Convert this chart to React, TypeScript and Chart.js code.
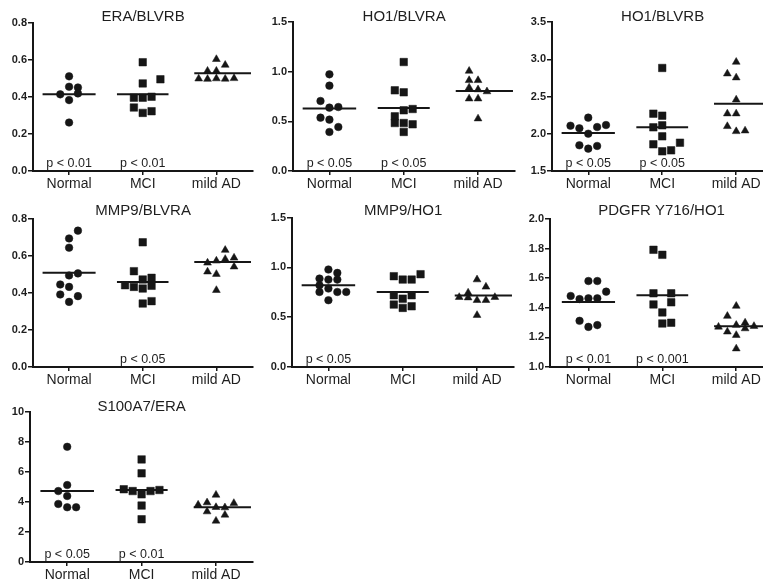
import { useEffect, useRef } from "react";
import { Chart, registerables } from "chart.js";

Chart.register(...registerables);

// ---------------- DATA ----------------
const CATEGORIES = ["Normal", "MCI", "mild AD"];
const TITLES = [
  "ERA/BLVRB",
  "HO1/BLVRA",
  "HO1/BLVRB",
  "MMP9/BLVRA",
  "MMP9/HO1",
  "PDGFR Y716/HO1",
  "S100A7/ERA",
];

// Panel 1: ERA/BLVRB
const ERA_BLVRB_VALUES = [
  [0.51, 0.454, 0.45, 0.413, 0.418, 0.382, 0.261],
  [0.586, 0.472, 0.494, 0.395, 0.395, 0.4, 0.342, 0.313, 0.322],
  [0.602, 0.571, 0.539, 0.539, 0.497, 0.495, 0.498, 0.496, 0.499],
];
const ERA_BLVRB_SLOTS = [
  [0, 0, 1, -1, 1, 0, 0],
  [0, 0, 2, -1, 0, 1, -1, 0, 1],
  [0, 1, -1, 0, -2, -1, 0, 1, 2],
];
const ERA_BLVRB_LINES = [0.413, 0.413, 0.526];
const ERA_BLVRB_TICKS = [0, 0.2, 0.4, 0.6, 0.8];
const ERA_BLVRB_P = ["p < 0.01", "p < 0.01", ""];

// Panel 2: HO1/BLVRA
const HO1_BLVRA_VALUES = [
  [0.973, 0.859, 0.705, 0.638, 0.644, 0.537, 0.517, 0.443, 0.393],
  [1.097, 0.812, 0.792, 0.611, 0.624, 0.55, 0.483, 0.483, 0.47, 0.393],
  [1.007, 0.913, 0.913, 0.839, 0.82, 0.8, 0.728, 0.728, 0.527],
];
const HO1_BLVRA_SLOTS = [
  [0, 0, -1, 0, 1, -1, 0, 1, 0],
  [0, -1, 0, 0, 1, -1, -1, 0, 1, 0],
  [-1, -1, 0, -1, 0, 1, -1, 0, 0],
];
const HO1_BLVRA_LINES = [0.628, 0.634, 0.805];
const HO1_BLVRA_TICKS = [0, 0.5, 1.0, 1.5];
const HO1_BLVRA_P = ["p < 0.05", "p < 0.05", ""];

// Panel 3: HO1/BLVRB
const HO1_BLVRB_VALUES = [
  [2.216, 2.108, 2.073, 2.001, 2.09, 2.117, 1.845, 1.8, 1.836],
  [2.883, 2.27, 2.243, 2.086, 2.113, 1.965, 1.858, 1.88, 1.764, 1.777],
  [2.963, 2.806, 2.753, 2.457, 2.27, 2.27, 2.1, 2.032, 2.041],
];
const HO1_BLVRB_SLOTS = [
  [0, -2, -1, 0, 1, 2, -1, 0, 1],
  [0, -1, 0, -1, 0, 0, -1, 2, 0, 1],
  [0, -1, 0, 0, -1, 0, -1, 0, 1],
];
const HO1_BLVRB_LINES = [2.01, 2.086, 2.404];
const HO1_BLVRB_TICKS = [1.5, 2.0, 2.5, 3.0, 3.5];
const HO1_BLVRB_P = ["p < 0.05", "p < 0.05", ""];

// Panel 4: MMP9/BLVRA
const MMP9_BLVRA_VALUES = [
  [0.737, 0.695, 0.645, 0.495, 0.506, 0.446, 0.433, 0.392, 0.383, 0.352],
  [0.674, 0.518, 0.442, 0.433, 0.473, 0.482, 0.424, 0.439, 0.343, 0.356],
  [0.632, 0.563, 0.59, 0.574, 0.583, 0.542, 0.515, 0.502, 0.415],
];
const MMP9_BLVRA_SLOTS = [
  [1, 0, 0, 0, 1, -1, 0, -1, 1, 0],
  [0, -1, -2, -1, 0, 1, 0, 1, 0, 1],
  [1, -1, 2, 0, 1, 2, -1, 0, 0],
];
const MMP9_BLVRA_LINES = [0.509, 0.46, 0.567];
const MMP9_BLVRA_TICKS = [0, 0.2, 0.4, 0.6, 0.8];
const MMP9_BLVRA_P = ["", "p < 0.05", ""];

// Panel 5: MMP9/HO1
const MMP9_HO1_VALUES = [
  [0.978, 0.944, 0.887, 0.877, 0.877, 0.82, 0.787, 0.753, 0.753, 0.753, 0.67],
  [0.911, 0.877, 0.877, 0.931, 0.72, 0.686, 0.72, 0.626, 0.593, 0.609],
  [0.877, 0.804, 0.745, 0.7, 0.696, 0.67, 0.67, 0.7, 0.52],
];
const MMP9_HO1_SLOTS = [
  [0, 1, -1, 0, 1, -1, 0, -1, 1, 2, 0],
  [-1, 0, 1, 2, -1, 0, 1, -1, 0, 1],
  [0, 1, -1, -2, -1, 0, 1, 2, 0],
];
const MMP9_HO1_LINES = [0.82, 0.753, 0.717];
const MMP9_HO1_TICKS = [0, 0.5, 1.0, 1.5];
const MMP9_HO1_P = ["p < 0.05", "", ""];

// Panel 6: PDGFR Y716/HO1
const PDGFR_HO1_VALUES = [
  [1.581, 1.581, 1.48, 1.459, 1.464, 1.464, 1.509, 1.312, 1.271, 1.283],
  [1.792, 1.758, 1.498, 1.498, 1.423, 1.437, 1.369, 1.294, 1.299],
  [1.412, 1.344, 1.299, 1.283, 1.271, 1.276, 1.238, 1.215, 1.26, 1.124],
];
const PDGFR_HO1_SLOTS = [
  [0, 1, -2, -1, 0, 1, 2, -1, 0, 1],
  [-1, 0, -1, 1, -1, 1, 0, 0, 1],
  [0, -1, 1, 0, -2, 2, -1, 0, 1, 0],
];
const PDGFR_HO1_LINES = [1.439, 1.484, 1.276];
const PDGFR_HO1_TICKS = [1.0, 1.2, 1.4, 1.6, 1.8, 2.0];
const PDGFR_HO1_P = ["p < 0.01", "p < 0.001", ""];

// Panel 7: S100A7/ERA
const S100A7_ERA_VALUES = [
  [7.68, 5.13, 4.73, 4.4, 3.87, 3.65, 3.65],
  [6.84, 5.91, 4.85, 4.73, 4.51, 4.73, 4.8, 3.76, 2.85],
  [4.47, 3.81, 3.96, 3.92, 3.36, 3.65, 3.63, 3.14, 2.74],
];
const S100A7_ERA_SLOTS = [
  [0, 0, -1, 0, -1, 0, 1],
  [0, 0, -2, -1, 0, 1, 2, 0, 0],
  [0, -2, -1, 2, -1, 0, 1, 1, 0],
];
const S100A7_ERA_LINES = [4.73, 4.8, 3.65];
const S100A7_ERA_TICKS = [0, 2, 4, 6, 8, 10];
const S100A7_ERA_P = ["p < 0.05", "p < 0.01", ""];

const PANEL_DATA = [
  { values: ERA_BLVRB_VALUES, slots: ERA_BLVRB_SLOTS, lines: ERA_BLVRB_LINES, ticks: ERA_BLVRB_TICKS, p: ERA_BLVRB_P },
  { values: HO1_BLVRA_VALUES, slots: HO1_BLVRA_SLOTS, lines: HO1_BLVRA_LINES, ticks: HO1_BLVRA_TICKS, p: HO1_BLVRA_P },
  { values: HO1_BLVRB_VALUES, slots: HO1_BLVRB_SLOTS, lines: HO1_BLVRB_LINES, ticks: HO1_BLVRB_TICKS, p: HO1_BLVRB_P },
  { values: MMP9_BLVRA_VALUES, slots: MMP9_BLVRA_SLOTS, lines: MMP9_BLVRA_LINES, ticks: MMP9_BLVRA_TICKS, p: MMP9_BLVRA_P },
  { values: MMP9_HO1_VALUES, slots: MMP9_HO1_SLOTS, lines: MMP9_HO1_LINES, ticks: MMP9_HO1_TICKS, p: MMP9_HO1_P },
  { values: PDGFR_HO1_VALUES, slots: PDGFR_HO1_SLOTS, lines: PDGFR_HO1_LINES, ticks: PDGFR_HO1_TICKS, p: PDGFR_HO1_P },
  { values: S100A7_ERA_VALUES, slots: S100A7_ERA_SLOTS, lines: S100A7_ERA_LINES, ticks: S100A7_ERA_TICKS, p: S100A7_ERA_P },
];

// ---------------- LAYOUT / STYLE ----------------
const LAYOUT = [
  { x0: 0, y0: 0, left: 33, right: 255, top: 22.5, bottom: 171, titleY: 21, xMin: -0.49 },
  { x0: 250, y0: 0, left: 293, right: 517, top: 22, bottom: 171, titleY: 21, xMin: -0.49 },
  { x0: 500, y0: 0, left: 552, right: 775, top: 22, bottom: 171, titleY: 21, xMin: -0.49 },
  { x0: 0, y0: 190, left: 33, right: 255, top: 219, bottom: 367, titleY: 215, xMin: -0.49 },
  { x0: 250, y0: 190, left: 292, right: 516, top: 217.5, bottom: 367, titleY: 215, xMin: -0.49 },
  { x0: 500, y0: 190, left: 550, right: 775, top: 219, bottom: 367, titleY: 215, xMin: -0.52 },
  { x0: 0, y0: 380, left: 30, right: 255, top: 412, bottom: 562, titleY: 411, xMin: -0.5 },
];
const X_MAX = 2.5;
const SLOT = 0.12;
const LINE_SPANS = [
  [-0.36, 0.36],
  [-0.35, 0.35],
  [-0.3, 0.47],
];
const POINT_STYLES = ["circle", "rect", "triangle"];
const POINT_RADII = [3.8, 5.3, 4.5];
const FONT = '"Liberation Sans", Arial, Helvetica, sans-serif';
const INK = "#161616";
const TEXT = "#1e1e1e";

export default function App() {
  const refs = useRef<(HTMLCanvasElement | null)[]>([]);

  useEffect(() => {
    document.body.style.margin = "0";
    const charts: Chart[] = [];
    PANEL_DATA.forEach((pd, idx) => {
      const lay = LAYOUT[idx];
      const canvas = refs.current[idx];
      if (!canvas) return;
      const H = lay.bottom - lay.y0 + 24;
      const xHeight = H - (lay.bottom - lay.y0);
      const yWidth = lay.left - lay.x0;
      const allInt = pd.ticks.every((t) => Number.isInteger(t));

      const datasets: any[] = [];
      pd.values.forEach((vals, g) => {
        datasets.push({
          type: "scatter",
          data: vals.map((v, i) => ({ x: g + pd.slots[g][i] * SLOT, y: v })),
          pointStyle: POINT_STYLES[g],
          pointRadius: POINT_RADII[g],
          pointBackgroundColor: INK,
          pointBorderColor: INK,
          pointBorderWidth: 0.5,
          showLine: false,
        });
      });
      pd.lines.forEach((m, g) => {
        datasets.push({
          type: "line",
          data: [
            { x: g + LINE_SPANS[g][0], y: m },
            { x: g + LINE_SPANS[g][1], y: m },
          ],
          borderColor: INK,
          borderWidth: 2,
          pointRadius: 0,
          showLine: true,
          fill: false,
        });
      });

      const annot = {
        id: "annot" + idx,
        afterDraw(chart: any) {
          const { ctx, chartArea, scales } = chart;
          ctx.save();
          ctx.fillStyle = TEXT;
          ctx.textAlign = "center";
          ctx.textBaseline = "alphabetic";
          ctx.font = `15px ${FONT}`;
          ctx.fillText(TITLES[idx], (chartArea.left + chartArea.right) / 2, lay.titleY - lay.y0);
          ctx.font = `12.5px ${FONT}`;
          pd.p.forEach((lab, g) => {
            if (!lab) return;
            ctx.fillText(lab, scales.x.getPixelForValue(g), chartArea.bottom - 4.5);
          });
          ctx.restore();
        },
      };

      const chart = new Chart(canvas, {
        type: "scatter",
        data: { datasets },
        plugins: [annot],
        options: {
          responsive: false,
          maintainAspectRatio: false,
          animation: false,
          events: [],
          layout: { padding: { left: 0, right: 4, top: lay.top - lay.y0, bottom: 0 } },
          plugins: {
            legend: { display: false },
            tooltip: { enabled: false },
            title: { display: false },
          },
          scales: {
            x: {
              type: "linear",
              min: lay.xMin,
              max: X_MAX,
              afterBuildTicks: (s: any) => {
                s.ticks = CATEGORIES.map((_, i) => ({ value: i }));
              },
              afterFit: (s: any) => {
                s.height = xHeight;
              },
              ticks: {
                autoSkip: false,
                maxRotation: 0,
                padding: 1,
                color: TEXT,
                font: { family: FONT, size: 14 },
                callback: (v: any) => CATEGORIES[Math.round(Number(v))] ?? "",
              },
              grid: {
                drawOnChartArea: false,
                drawTicks: true,
                tickLength: 4,
                color: INK,
                lineWidth: 1.5,
              },
              border: { display: true, color: INK, width: 2 },
            },
            y: {
              type: "linear",
              min: pd.ticks[0],
              max: pd.ticks[pd.ticks.length - 1],
              afterBuildTicks: (s: any) => {
                s.ticks = pd.ticks.map((t) => ({ value: t }));
              },
              afterFit: (s: any) => {
                s.width = yWidth;
              },
              ticks: {
                padding: 1,
                color: TEXT,
                font: { family: FONT, size: 11, weight: "bold" },
                callback: (v: any) => (allInt ? String(v) : Number(v).toFixed(1)),
              },
              grid: {
                drawOnChartArea: false,
                drawTicks: true,
                tickLength: 5,
                color: INK,
                lineWidth: 1.5,
              },
              border: { display: true, color: INK, width: 2 },
            },
          },
        } as any,
      });
      charts.push(chart);
    });
    return () => charts.forEach((c) => c.destroy());
  }, []);

  return (
    <div
      style={{
        position: "absolute",
        left: 0,
        top: 0,
        width: 763,
        height: 587,
        overflow: "hidden",
        background: "#ffffff",
      }}
    >
      {LAYOUT.map((lay, i) => {
        const W = lay.right - lay.x0 + 4;
        const H = lay.bottom - lay.y0 + 24;
        return (
          <canvas
            key={i}
            ref={(el) => {
              refs.current[i] = el;
            }}
            width={W}
            height={H}
            style={{ position: "absolute", left: lay.x0, top: lay.y0, width: W, height: H }}
          />
        );
      })}
    </div>
  );
}
